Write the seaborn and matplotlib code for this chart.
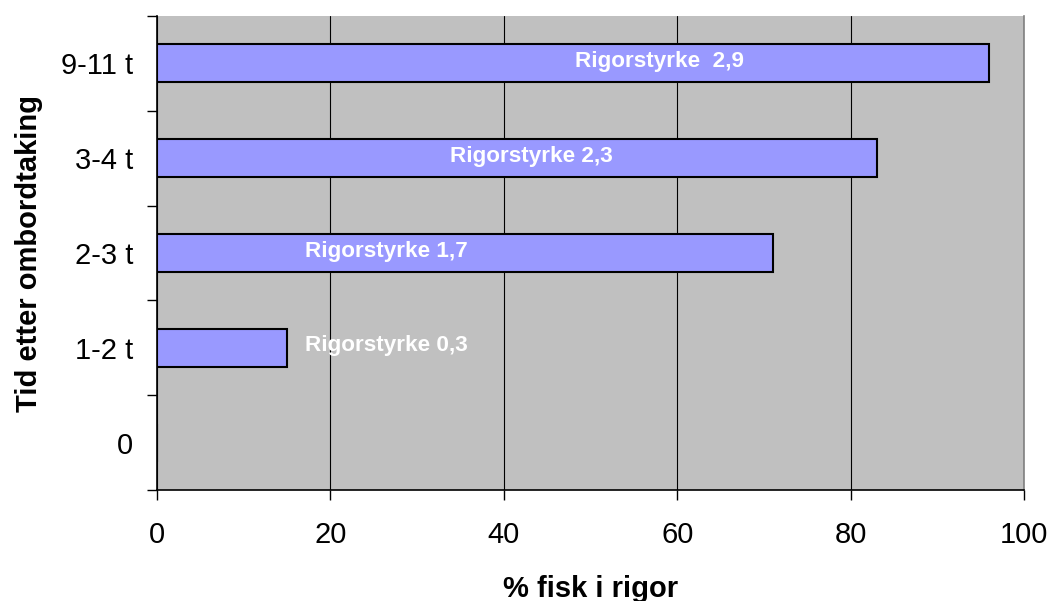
import matplotlib
matplotlib.use("Agg")
import matplotlib.pyplot as plt
import pandas as pd
import seaborn as sns
from matplotlib.ticker import FixedLocator

# Time after taking aboard (top to bottom) and share of fish in rigor
categories = ["9-11 t", "3-4 t", "2-3 t", "1-2 t", "0"]
pct_in_rigor = [96, 83, 71, 15, 0]
rigor_labels = ["Rigorstyrke  2,9", "Rigorstyrke 2,3", "Rigorstyrke 1,7", "Rigorstyrke 0,3", ""]
label_x = [58.0, 43.2, 26.4, 26.4, 0]

sns.set_theme(style="white")
plt.rcParams["font.family"] = ["Liberation Sans", "DejaVu Sans"]

df = pd.DataFrame({"tid": categories, "pct": pct_in_rigor})

fig = plt.figure(figsize=(10.5, 6.01), dpi=100)
ax = fig.add_axes([157 / 1050, 1 - 490 / 601, (1024 - 157) / 1050, (490 - 16) / 601])
ax.set_facecolor("#C0C0C0")

sns.barplot(data=df, x="pct", y="tid", order=categories, orient="h",
            color="#9999FF", saturation=1, width=0.4,
            edgecolor="black", linewidth=1.5, ax=ax, zorder=3)

for i, (txt, xpos) in enumerate(zip(rigor_labels, label_x)):
    if txt:
        ax.text(xpos, i - 0.02, txt, color="white", fontsize=16.2, fontweight="bold",
                ha="center", va="center", zorder=4)

ax.set_xlim(0, 100)
ax.set_ylim(len(categories) - 0.5, -0.5)
ax.set_xticks([0, 20, 40, 60, 80, 100])
ax.xaxis.grid(True, color="black", linewidth=0.8, zorder=1)
ax.yaxis.grid(False)
ax.set_axisbelow(True)

# y ticks sit on category boundaries, labels at category centres
ax.yaxis.set_minor_locator(FixedLocator([k - 0.5 for k in range(len(categories) + 1)]))
ax.tick_params(axis="y", which="major", length=0, pad=17, labelsize=21, colors="black")
ax.tick_params(axis="y", which="minor", left=True, length=7, width=1, color="black")
ax.tick_params(axis="x", which="major", bottom=True, length=7, width=1, color="black",
               pad=15, labelsize=21, labelcolor="black")

for side in ["left", "bottom"]:
    ax.spines[side].set_color("black")
    ax.spines[side].set_linewidth(1.2)
ax.spines["right"].set_color("#808080")
ax.spines["right"].set_linewidth(1.2)
ax.spines["top"].set_visible(False)

ax.set_xlabel("% fisk i rigor", fontsize=21, fontweight="bold", labelpad=19, color="black")
ax.set_ylabel("Tid etter ombordtaking", fontsize=21, fontweight="bold", labelpad=13, color="black")

fig.savefig("out.png", dpi=100)
